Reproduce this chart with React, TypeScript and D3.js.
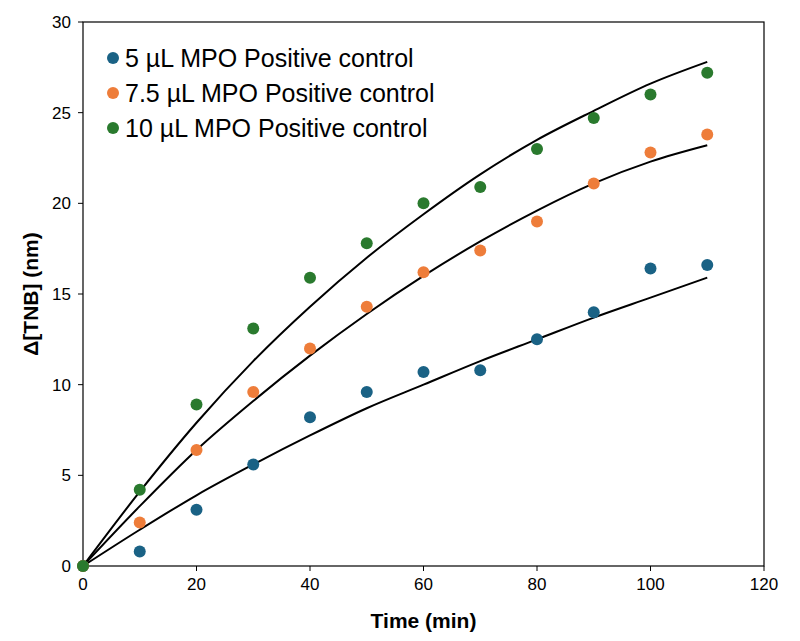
import * as d3 from "d3"

const times = [0, 10, 20, 30, 40, 50, 60, 70, 80, 90, 100, 110]
const blue = [0, 0.8, 3.1, 5.6, 8.2, 9.6, 10.7, 10.8, 12.5, 14.0, 16.4, 16.6]
const orange = [0, 2.4, 6.4, 9.6, 12.0, 14.3, 16.2, 17.4, 19.0, 21.1, 22.8, 23.8]
const green = [0, 4.2, 8.9, 13.1, 15.9, 17.8, 20.0, 20.9, 23.0, 24.7, 26.0, 27.2]
const blueFit = [0, 2.0, 3.9, 5.6, 7.2, 8.7, 10.0, 11.3, 12.5, 13.7, 14.8, 15.9]
const orangeFit = [0, 3.3, 6.4, 9.1, 11.6, 13.9, 16.0, 17.9, 19.6, 21.1, 22.3, 23.2]
const greenFit = [0, 4.1, 7.9, 11.3, 14.3, 17.0, 19.4, 21.6, 23.5, 25.1, 26.6, 27.8]
const xTicks = [0, 20, 40, 60, 80, 100, 120]
const yTicks = [0, 5, 10, 15, 20, 25, 30]

const series = [
  { name: "5 µL MPO Positive control", color: "#1a6285", values: blue, fit: blueFit },
  { name: "7.5 µL MPO Positive control", color: "#ee7d3a", values: orange, fit: orangeFit },
  { name: "10 µL MPO Positive control", color: "#2a7a2e", values: green, fit: greenFit },
]

export default function App() {
  const W = 800, H = 641
  const m = { left: 83, right: 36, top: 22, bottom: 75 }
  const x = d3.scaleLinear().domain([0, 120]).range([m.left, W - m.right])
  const y = d3.scaleLinear().domain([0, 30]).range([H - m.bottom, m.top])
  const line = d3.line<number>().x((_, i) => x(times[i])).y((d) => y(d)).curve(d3.curveMonotoneX)
  const font = "Arial, 'Liberation Sans', sans-serif"
  return (
    <svg width={W} height={H} style={{ position: "absolute", left: 0, top: 0, fontFamily: font }}>
      <rect x={m.left} y={m.top} width={x(120) - m.left} height={y(0) - m.top} fill="none" stroke="#000" strokeWidth={1.2} />
      {xTicks.map((t) => (
        <g key={t}>
          <line x1={x(t)} x2={x(t)} y1={y(0)} y2={y(0) + 5} stroke="#000" />
          <text x={x(t)} y={y(0) + 24} textAnchor="middle" fontSize={17}>{t}</text>
        </g>
      ))}
      {yTicks.map((t) => (
        <g key={t}>
          <line x1={m.left - 5} x2={m.left} y1={y(t)} y2={y(t)} stroke="#000" />
          <text x={m.left - 12} y={y(t) + 6} textAnchor="end" fontSize={17}>{t}</text>
        </g>
      ))}
      <text x={(m.left + x(120)) / 2} y={628} textAnchor="middle" fontSize={21} fontWeight="bold">Time (min)</text>
      <text transform={`translate(38,${(m.top + y(0)) / 2}) rotate(-90)`} textAnchor="middle" fontSize={21} fontWeight="bold">Δ[TNB] (nm)</text>
      {series.map((s) => (
        <g key={s.name}>
          <path d={line(s.fit) || ""} fill="none" stroke="#000" strokeWidth={2} />
          {s.values.map((v, i) => (
            <circle key={i} cx={x(times[i])} cy={y(v)} r={6} fill={s.color} />
          ))}
        </g>
      ))}
      {series.map((s, i) => (
        <g key={s.name} transform={`translate(113,${58 + i * 35})`}>
          <circle cx={0} cy={0} r={6} fill={s.color} />
          <text x={12} y={9} fontSize={25}>{s.name}</text>
        </g>
      ))}
    </svg>
  )
}
